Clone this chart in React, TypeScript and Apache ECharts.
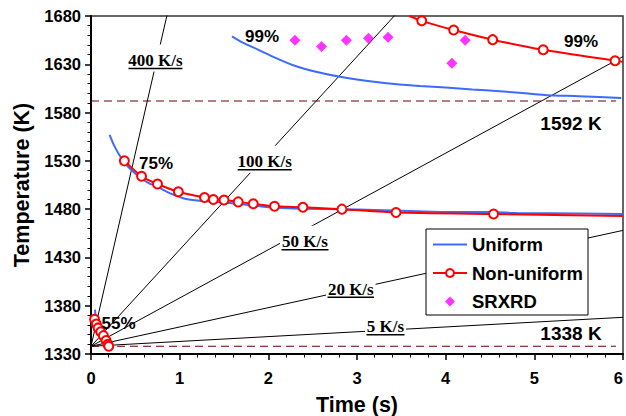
import React, { useEffect, useRef } from 'react';
import * as echarts from 'echarts';

// ---- data ----
const rates = [400, 100, 50, 20, 5]; // K/s heating rates
const rateLabels = ['400 K/s', '100 K/s', '50 K/s', '20 K/s', '5 K/s'];
const startTemp = 1338;
const refLevels = [1592, 1338];
const refLabels = ['1592 K', '1338 K'];
const refLineEnd = 5.92;
const timeEnd = 6;

const uniform99 = [[1.59, 1659], [1.7, 1653], [1.83, 1647.5], [2.05, 1638], [2.28, 1629], [2.55, 1622], [2.81, 1617], [3.1, 1613], [3.48, 1609], [3.71, 1607.5], [4.0, 1606], [4.3, 1604], [4.61, 1602], [4.9, 1600], [5.14, 1598], [5.5, 1597], [5.98, 1595]];
const uniform75 = [[0.21, 1557], [0.26, 1546], [0.32, 1536], [0.38, 1528], [0.45, 1521], [0.55, 1513], [0.65, 1507], [0.75, 1503], [0.9, 1496], [1.05, 1491], [1.2, 1489], [1.4, 1487.5], [1.6, 1486], [1.8, 1484], [2.0, 1482], [2.4, 1480.5], [2.8, 1480], [3.2, 1479], [3.6, 1478], [4.0, 1477], [4.5, 1477], [4.8, 1476], [5.5, 1475.5], [6.0, 1475]];
const uniform55 = [[0.045, 1376], [0.055, 1367], [0.07, 1361], [0.09, 1357], [0.11, 1353], [0.14, 1349], [0.17, 1344], [0.2, 1341], [0.22, 1339]];

const nonUniform99 = [[3.59, 1680], [3.73, 1675], [4.09, 1665.5], [4.53, 1655.5], [5.1, 1645], [5.91, 1633.7], [6.0, 1632.5]];
const nonUniform99Marked = [false, true, true, true, true, true, false];
const nonUniform75 = [[0.376, 1530], [0.57, 1514], [0.75, 1506], [0.985, 1498], [1.28, 1492], [1.38, 1490], [1.5, 1489.5], [1.66, 1487.5], [1.83, 1485.5], [2.07, 1483], [2.39, 1482], [2.83, 1480], [3.44, 1476.5], [4.54, 1475], [6.0, 1473]];
const nonUniform75Marked = [true, true, true, true, true, true, true, true, true, true, true, true, true, true, false];
const nonUniform55 = [[0.04, 1366], [0.06, 1361], [0.08, 1357], [0.11, 1353], [0.14, 1349], [0.17, 1344], [0.19, 1340], [0.2, 1338]];

const srxrd = [[2.3, 1655], [2.6, 1648.5], [2.88, 1655], [3.13, 1657], [3.35, 1658], [4.07, 1631], [4.22, 1655]];

const xTicks = { min: 0, max: 6, interval: 1 };
const yTicks = { min: 1330, max: 1680, interval: 50 };

// ---- styling / annotation layout ----
const SANS = '"Liberation Sans", Arial, Helvetica, sans-serif';
const SERIF = '"Liberation Serif", "Times New Roman", Times, serif';
const BLUE = '#3d6bff';
const RED = '#ff0000';
const MAGENTA = '#ff00ff';
const DARKRED = '#6b0000';

const rateLabelPos = [
  { cx: 155.5, cy: 60.5, w: 54 },
  { cx: 264.7, cy: 161.7, w: 54 },
  { cx: 305, cy: 241.7, w: 47 },
  { cx: 350.8, cy: 289.3, w: 46.5 },
  { cx: 385.5, cy: 326.7, w: 38 },
];
const percentLabels = [
  { text: '99%', x: 262, y: 36 },
  { text: '99%', x: 581, y: 41 },
  { text: '75%', x: 156, y: 163 },
  { text: '55%', x: 118.5, y: 323 },
];
const refLabelPos = [
  { x: 571, y: 123 },
  { x: 571, y: 333 },
];

function markItems(points: number[][], marked: boolean[]) {
  return points.map((p, i) => (marked[i] ? { value: p } : { value: p, symbol: 'none' }));
}

export default function App() {
  const ref = useRef<HTMLDivElement>(null);
  useEffect(() => {
    document.body.style.margin = '0';
    if (!ref.current) return;
    const chart = echarts.init(ref.current, undefined, { renderer: 'svg' });

    const series: any[] = [];
    rates.forEach((r, i) => {
      series.push({
        name: rateLabels[i],
        type: 'line',
        data: [[0, startTemp], [timeEnd, startTemp + r * timeEnd]],
        symbol: 'none',
        silent: true,
        clip: true,
        z: 1,
        lineStyle: { color: '#000', width: 1 },
      });
    });
    refLevels.forEach((lv, i) => {
      series.push({
        name: refLabels[i],
        type: 'line',
        data: [[0, lv], [refLineEnd, lv]],
        symbol: 'none',
        silent: true,
        z: 1,
        lineStyle: { color: DARKRED, width: 1.2, type: [8, 5] },
      });
    });
    [uniform99, uniform75, uniform55].forEach((d) => {
      series.push({
        name: 'Uniform',
        type: 'line',
        data: d,
        symbol: 'none',
        smooth: 0.2,
        z: 3,
        lineStyle: { color: BLUE, width: 2 },
        itemStyle: { color: BLUE },
      });
    });
    const redCommon = {
      name: 'Non-uniform',
      type: 'line',
      symbol: 'emptyCircle',
      symbolSize: 9,
      smooth: 0.2,
      z: 4,
      lineStyle: { color: RED, width: 2 },
      itemStyle: { color: RED, borderColor: RED, borderWidth: 1.2 },
    };
    series.push({ ...redCommon, data: markItems(nonUniform99, nonUniform99Marked) });
    series.push({ ...redCommon, data: markItems(nonUniform75, nonUniform75Marked) });
    series.push({ ...redCommon, data: nonUniform55 });
    series.push({
      name: 'SRXRD',
      type: 'scatter',
      data: srxrd,
      symbol: 'diamond',
      symbolSize: 11,
      z: 5,
      itemStyle: { color: MAGENTA },
    });

    const graphic: any[] = [];
    rateLabelPos.forEach((p, i) => {
      graphic.push({
        type: 'rect',
        z: 50,
        shape: { x: p.cx - p.w / 2 - 1.5, y: p.cy - 16, width: p.w + 3, height: 27 },
        style: { fill: '#fff' },
      });
      graphic.push({
        type: 'text',
        z: 51,
        x: p.cx,
        y: p.cy,
        style: {
          text: rateLabels[i],
          font: `bold 17px ${SERIF}`,
          fill: '#000',
          align: 'center',
          verticalAlign: 'middle',
          textAlign: 'center',
          textVerticalAlign: 'middle',
        },
      });
      graphic.push({
        type: 'line',
        z: 51,
        shape: { x1: p.cx - p.w / 2, y1: p.cy + 8, x2: p.cx + p.w / 2, y2: p.cy + 8 },
        style: { stroke: '#000', lineWidth: 1.4 },
      });
    });
    percentLabels.forEach((p) => {
      graphic.push({
        type: 'text',
        z: 52,
        x: p.x,
        y: p.y,
        style: {
          text: p.text,
          font: `bold 17px ${SANS}`,
          fill: '#000',
          align: 'center',
          verticalAlign: 'middle',
          textAlign: 'center',
          textVerticalAlign: 'middle',
        },
      });
    });
    refLabelPos.forEach((p, i) => {
      graphic.push({
        type: 'text',
        z: 52,
        x: p.x,
        y: p.y,
        style: {
          text: refLabels[i],
          font: `bold 19px ${SANS}`,
          fill: '#000',
          align: 'center',
          verticalAlign: 'middle',
          textAlign: 'center',
          textVerticalAlign: 'middle',
        },
      });
    });

    const axisLabel = { fontFamily: SANS, fontWeight: 'bold', fontSize: 16.5, color: '#000', formatter: (v: number) => String(v) };
    const nameStyle = { fontFamily: SANS, fontWeight: 'bold', fontSize: 21.5, color: '#000' };

    chart.setOption({
      animation: false,
      backgroundColor: '#fff',
      grid: {
        left: 91, top: 16, width: 532, height: 338,
        outerBoundsMode: 'none', containLabel: false,
        show: true, borderColor: '#333', borderWidth: 1.5, backgroundColor: 'transparent',
      },
      xAxis: {
        type: 'value',
        min: xTicks.min,
        max: xTicks.max,
        interval: xTicks.interval,
        name: 'Time (s)',
        nameLocation: 'middle',
        nameGap: 40,
        nameMoveOverlap: false,
        nameTextStyle: nameStyle,
        axisLine: { lineStyle: { color: '#000', width: 2 } },
        axisTick: { show: true, length: 6, lineStyle: { color: '#000', width: 1.5 } },
        minorTick: { show: true, splitNumber: 5, length: 3.5, lineStyle: { color: '#000', width: 1 } },
        splitLine: { show: false },
        axisLabel: { ...axisLabel, margin: 15, alignMaxLabel: 'right' },
      },
      yAxis: {
        type: 'value',
        min: yTicks.min,
        max: yTicks.max,
        interval: yTicks.interval,
        name: 'Temperature (K)',
        nameLocation: 'middle',
        nameGap: 55,
        nameRotate: 90,
        nameTextStyle: nameStyle,
        axisLine: { lineStyle: { color: '#000', width: 2 } },
        axisTick: { show: true, length: 6, lineStyle: { color: '#000', width: 1.5 } },
        minorTick: { show: true, splitNumber: 5, length: 3.5, lineStyle: { color: '#000', width: 1 } },
        splitLine: { show: false },
        axisLabel: { ...axisLabel, margin: 10 },
      },
      legend: {
        data: [
          { name: 'Uniform', icon: 'path://M0,0 L34,0 L34,2 L0,2 Z' },
          { name: 'Non-uniform' },
          { name: 'SRXRD', icon: 'path://M5,0 L10,5 L5,10 L0,5 Z' },
        ],
        orient: 'vertical',
        left: 426,
        top: 229,
        padding: [6, 4, 4, 6],
        itemGap: 9.5,
        itemWidth: 34,
        itemHeight: 10,
        symbolKeepAspect: true,
        backgroundColor: '#fff',
        borderColor: '#000',
        borderWidth: 1,
        borderRadius: 0,
        z: 20,
        textStyle: { fontFamily: SANS, fontWeight: 'bold', fontSize: 18.5, color: '#000', lineHeight: 18, width: 112, overflow: 'none' },
      },
      graphic,
      series,
    });

    return () => chart.dispose();
  }, []);

  return <div ref={ref} style={{ width: 626, height: 416 }} />;
}
